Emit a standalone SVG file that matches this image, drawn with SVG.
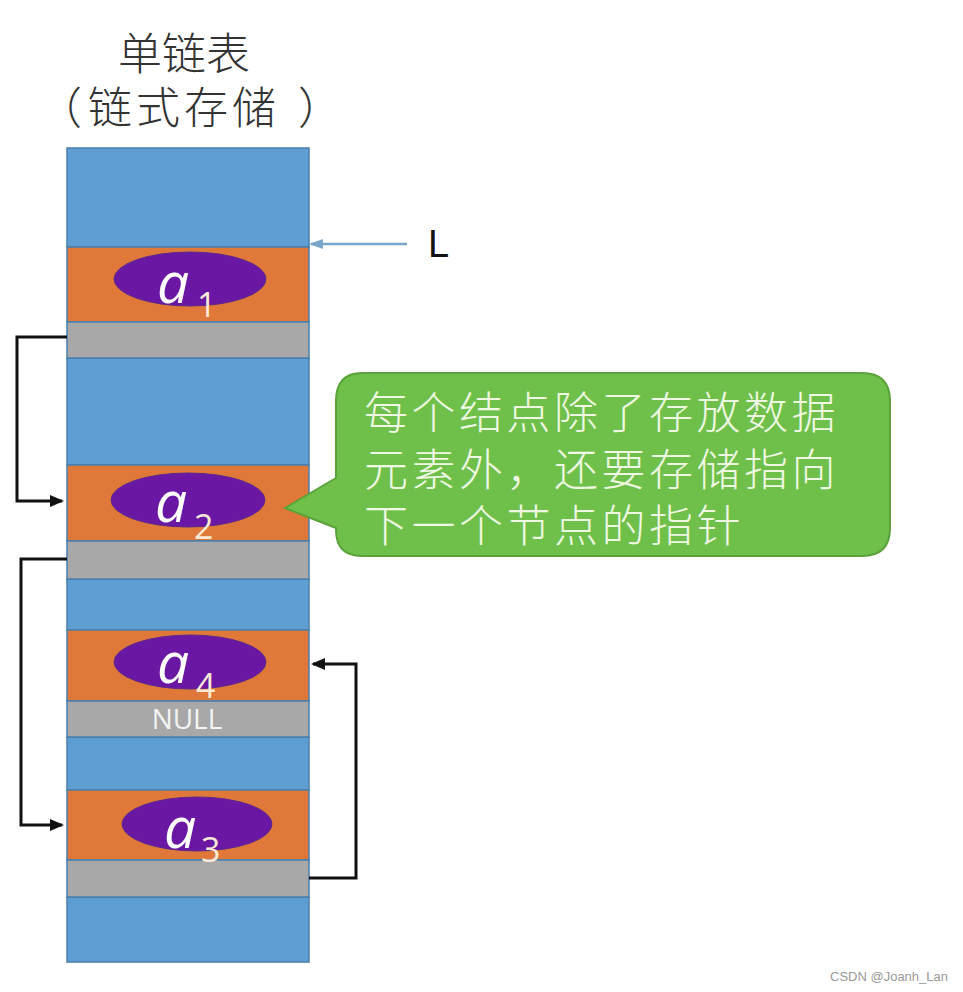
<svg xmlns="http://www.w3.org/2000/svg" width="963" height="992" viewBox="0 0 963 992">
<style>
.blue{fill:#5f9ed2;stroke:#4a7fae;stroke-width:1.5}
.org{fill:#e0783a;stroke:#4a7fae;stroke-width:1.5}
.gray{fill:#a8a8a8;stroke:#4a7fae;stroke-width:1.5}
.ell{fill:#6a17a3;stroke:#5a2a8a;stroke-width:1}
.a{font-family:"Open Sans","Noto Sans",sans-serif;font-style:italic;font-size:57px;fill:#fff}
.sub{font-family:"Open Sans","Noto Sans",sans-serif;font-size:34px;fill:#fde9d6}
.title{font-family:"Noto Sans CJK SC",sans-serif;font-size:44px;fill:#333;font-weight:300}
.call{font-family:"Noto Sans CJK SC",sans-serif;font-size:44px;letter-spacing:3.5px;fill:#eef8e2;font-weight:300}
.conn{fill:none;stroke:#111;stroke-width:3}
</style>
<defs>
<marker id="ah" markerWidth="14" markerHeight="12" refX="12" refY="6" orient="auto" markerUnits="userSpaceOnUse">
<path d="M0,0 L14,6 L0,12 Z" fill="#111"/>
</marker>
<marker id="ahL" markerWidth="14" markerHeight="12" refX="12" refY="6" orient="auto" markerUnits="userSpaceOnUse">
<path d="M0,1 L14,6 L0,11 Z" fill="#7aa6cc"/>
</marker>
</defs>
<rect width="963" height="992" fill="#fff"/>
<g id="title">
<text class="title" x="184" y="70" text-anchor="middle">单链表</text>
<text class="title" x="38" y="124">（</text>
<text class="title" x="88" y="124" letter-spacing="4">链式存储</text>
<text class="title" x="298" y="124">）</text>
</g>
<g id="memory">
<rect class="blue" x="67" y="148" width="242" height="99"/>
<rect class="blue" x="67" y="358" width="242" height="107"/>
<rect class="blue" x="67" y="579" width="242" height="51"/>
<rect class="blue" x="67" y="737" width="242" height="53"/>
<rect class="blue" x="67" y="897" width="242" height="65"/>
</g>
<g id="node-a1">
<rect class="org" x="67" y="247" width="242" height="75"/>
<rect class="gray" x="67" y="322" width="242" height="36"/>
<ellipse class="ell" cx="190" cy="279" rx="76" ry="27"/>
<text class="a" x="157" y="303">a</text>
<text class="sub" x="197" y="317">1</text>
</g>
<g id="node-a2">
<rect class="org" x="67" y="465" width="242" height="76"/>
<rect class="gray" x="67" y="541" width="242" height="38"/>
<ellipse class="ell" cx="188" cy="500" rx="77" ry="27"/>
<text class="a" x="155" y="522">a</text>
<text class="sub" x="194" y="539">2</text>
</g>
<g id="node-a4">
<rect class="org" x="67" y="630" width="242" height="71"/>
<rect class="gray" x="67" y="701" width="242" height="36"/>
<ellipse class="ell" cx="190" cy="662" rx="76" ry="27"/>
<text class="a" x="157" y="683">a</text>
<text class="sub" x="196" y="698">4</text>
<text x="187" y="729" text-anchor="middle" font-family="Open Sans, Noto Sans, sans-serif" font-size="28" fill="#f4f4f4">NULL</text>
</g>
<g id="node-a3">
<rect class="org" x="67" y="790" width="242" height="70"/>
<rect class="gray" x="67" y="860" width="242" height="37"/>
<ellipse class="ell" cx="197" cy="824" rx="75" ry="27"/>
<text class="a" x="164" y="848">a</text>
<text class="sub" x="201" y="862">3</text>
</g>
<g id="label-L">
<text x="428" y="257" font-family="Liberation Sans, Arial, sans-serif" font-size="38" fill="#111">L</text>
</g>
<g id="callout">
<path d="M362,373 H862 Q890,373 890,401 V528 Q890,556 862,556 H362 Q336,556 336,530 V528 L285,508 L336,478 V401 Q336,373 362,373 Z" fill="#6fc04a" stroke="#5ba23a" stroke-width="2"/>
<text class="call" x="364" y="429">每个结点除了存放数据</text>
<text class="call" x="364" y="486">元素外，还要存储指向</text>
<text class="call" x="364" y="542">下一个节点的指针</text>
</g>
<g id="connectors">
<line x1="407" y1="244" x2="311" y2="244" stroke="#7aa6cc" stroke-width="2.5" marker-end="url(#ahL)"/>
<path class="conn" d="M67,337 H17 V501 H62" marker-end="url(#ah)"/>
<path class="conn" d="M67,559 H21 V825 H62" marker-end="url(#ah)"/>
<path class="conn" d="M309,878 H356 V664 H313" marker-end="url(#ah)"/>
</g>
<text x="948" y="981" text-anchor="end" font-family="Liberation Sans, Arial, sans-serif" font-size="13" fill="#999">CSDN @Joanh_Lan</text>
</svg>
